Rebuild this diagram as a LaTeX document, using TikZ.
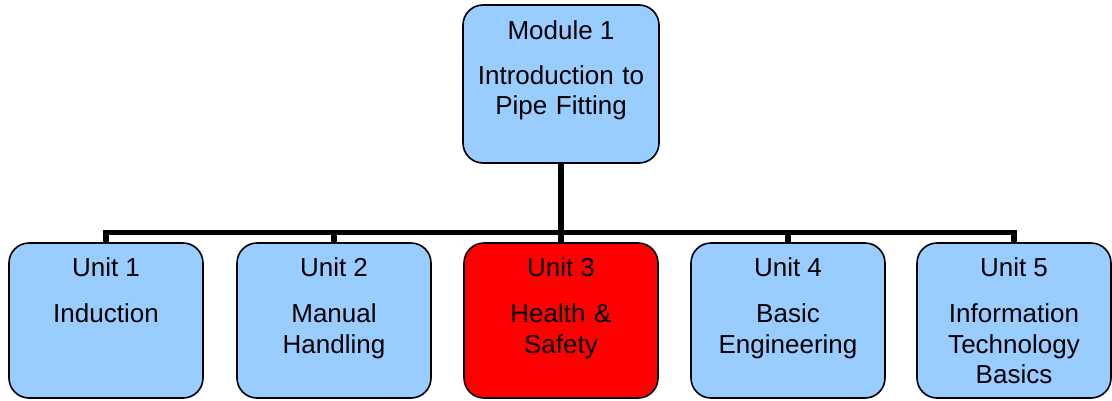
\documentclass[tikz,border=0pt]{standalone}
\usepackage{fontspec}
\setmainfont{Liberation Sans}
\definecolor{boxblue}{HTML}{99CCFF}
\definecolor{boxred}{HTML}{FF0000}
\begin{document}
\begin{tikzpicture}[x=0.75pt,y=-0.75pt,
  box/.style={draw=black, line width=1.2pt, rounded corners=15pt, fill=boxblue,
    minimum width=145.5pt, minimum height=116.25pt, inner sep=0pt},
  topbox/.style={box, minimum width=147pt, minimum height=118.5pt},
  hot/.style={fill=boxred},
  ttl/.style={anchor=base, inner sep=0pt, font=\fontsize{19.5pt}{23pt}\selectfont},
  desc/.style={anchor=base, inner sep=0pt, text width=140pt, align=center,
    font=\fontsize{19.5pt}{23pt}\selectfont},
  conn/.style={line width=4.3pt, line join=miter, black}]
\useasboundingbox (0,0) rectangle (1112,400);
% top box
\node[topbox] (m) at (561,84) {};
\node[ttl] (mt) at (561,39) {Module 1};
\node[desc] (md) at (561,84) {Introduction to\\Pipe Fitting};
% unit boxes
\node[box] (u1) at (106,320.5) {};
\node[box] (u2) at (334,320.5) {};
\node[box,hot] (u3) at (561,320.5) {};
\node[box] (u4) at (788,320.5) {};
\node[box] (u5) at (1014,320.5) {};
\node[ttl] (u1t) at (106,276) {Unit 1};
\node[ttl] (u2t) at (334,276) {Unit 2};
\node[ttl] (u3t) at (561,276) {Unit 3};
\node[ttl] (u4t) at (788,276) {Unit 4};
\node[ttl] (u5t) at (1014,276) {Unit 5};
\node[desc] (u1d) at (106,322.5) {Induction};
\node[desc] (u2d) at (334,322.5) {Manual\\Handling};
\node[desc] (u3d) at (561,322.5) {Health \&\\Safety};
\node[desc] (u4d) at (788,322.5) {Basic\\Engineering};
\node[desc] (u5d) at (1014,322.5) {Information\\Technology\\Basics};
% connectors
\coordinate (bus) at (561,232.5);
\draw[conn] (m.south) -- (u3.north);
\draw[conn] (u1.north) |- (bus) -| (u5.north);
\draw[conn] (u2.north) -- (u2.north |- bus);
\draw[conn] (u4.north) -- (u4.north |- bus);
\end{tikzpicture}
\end{document}
